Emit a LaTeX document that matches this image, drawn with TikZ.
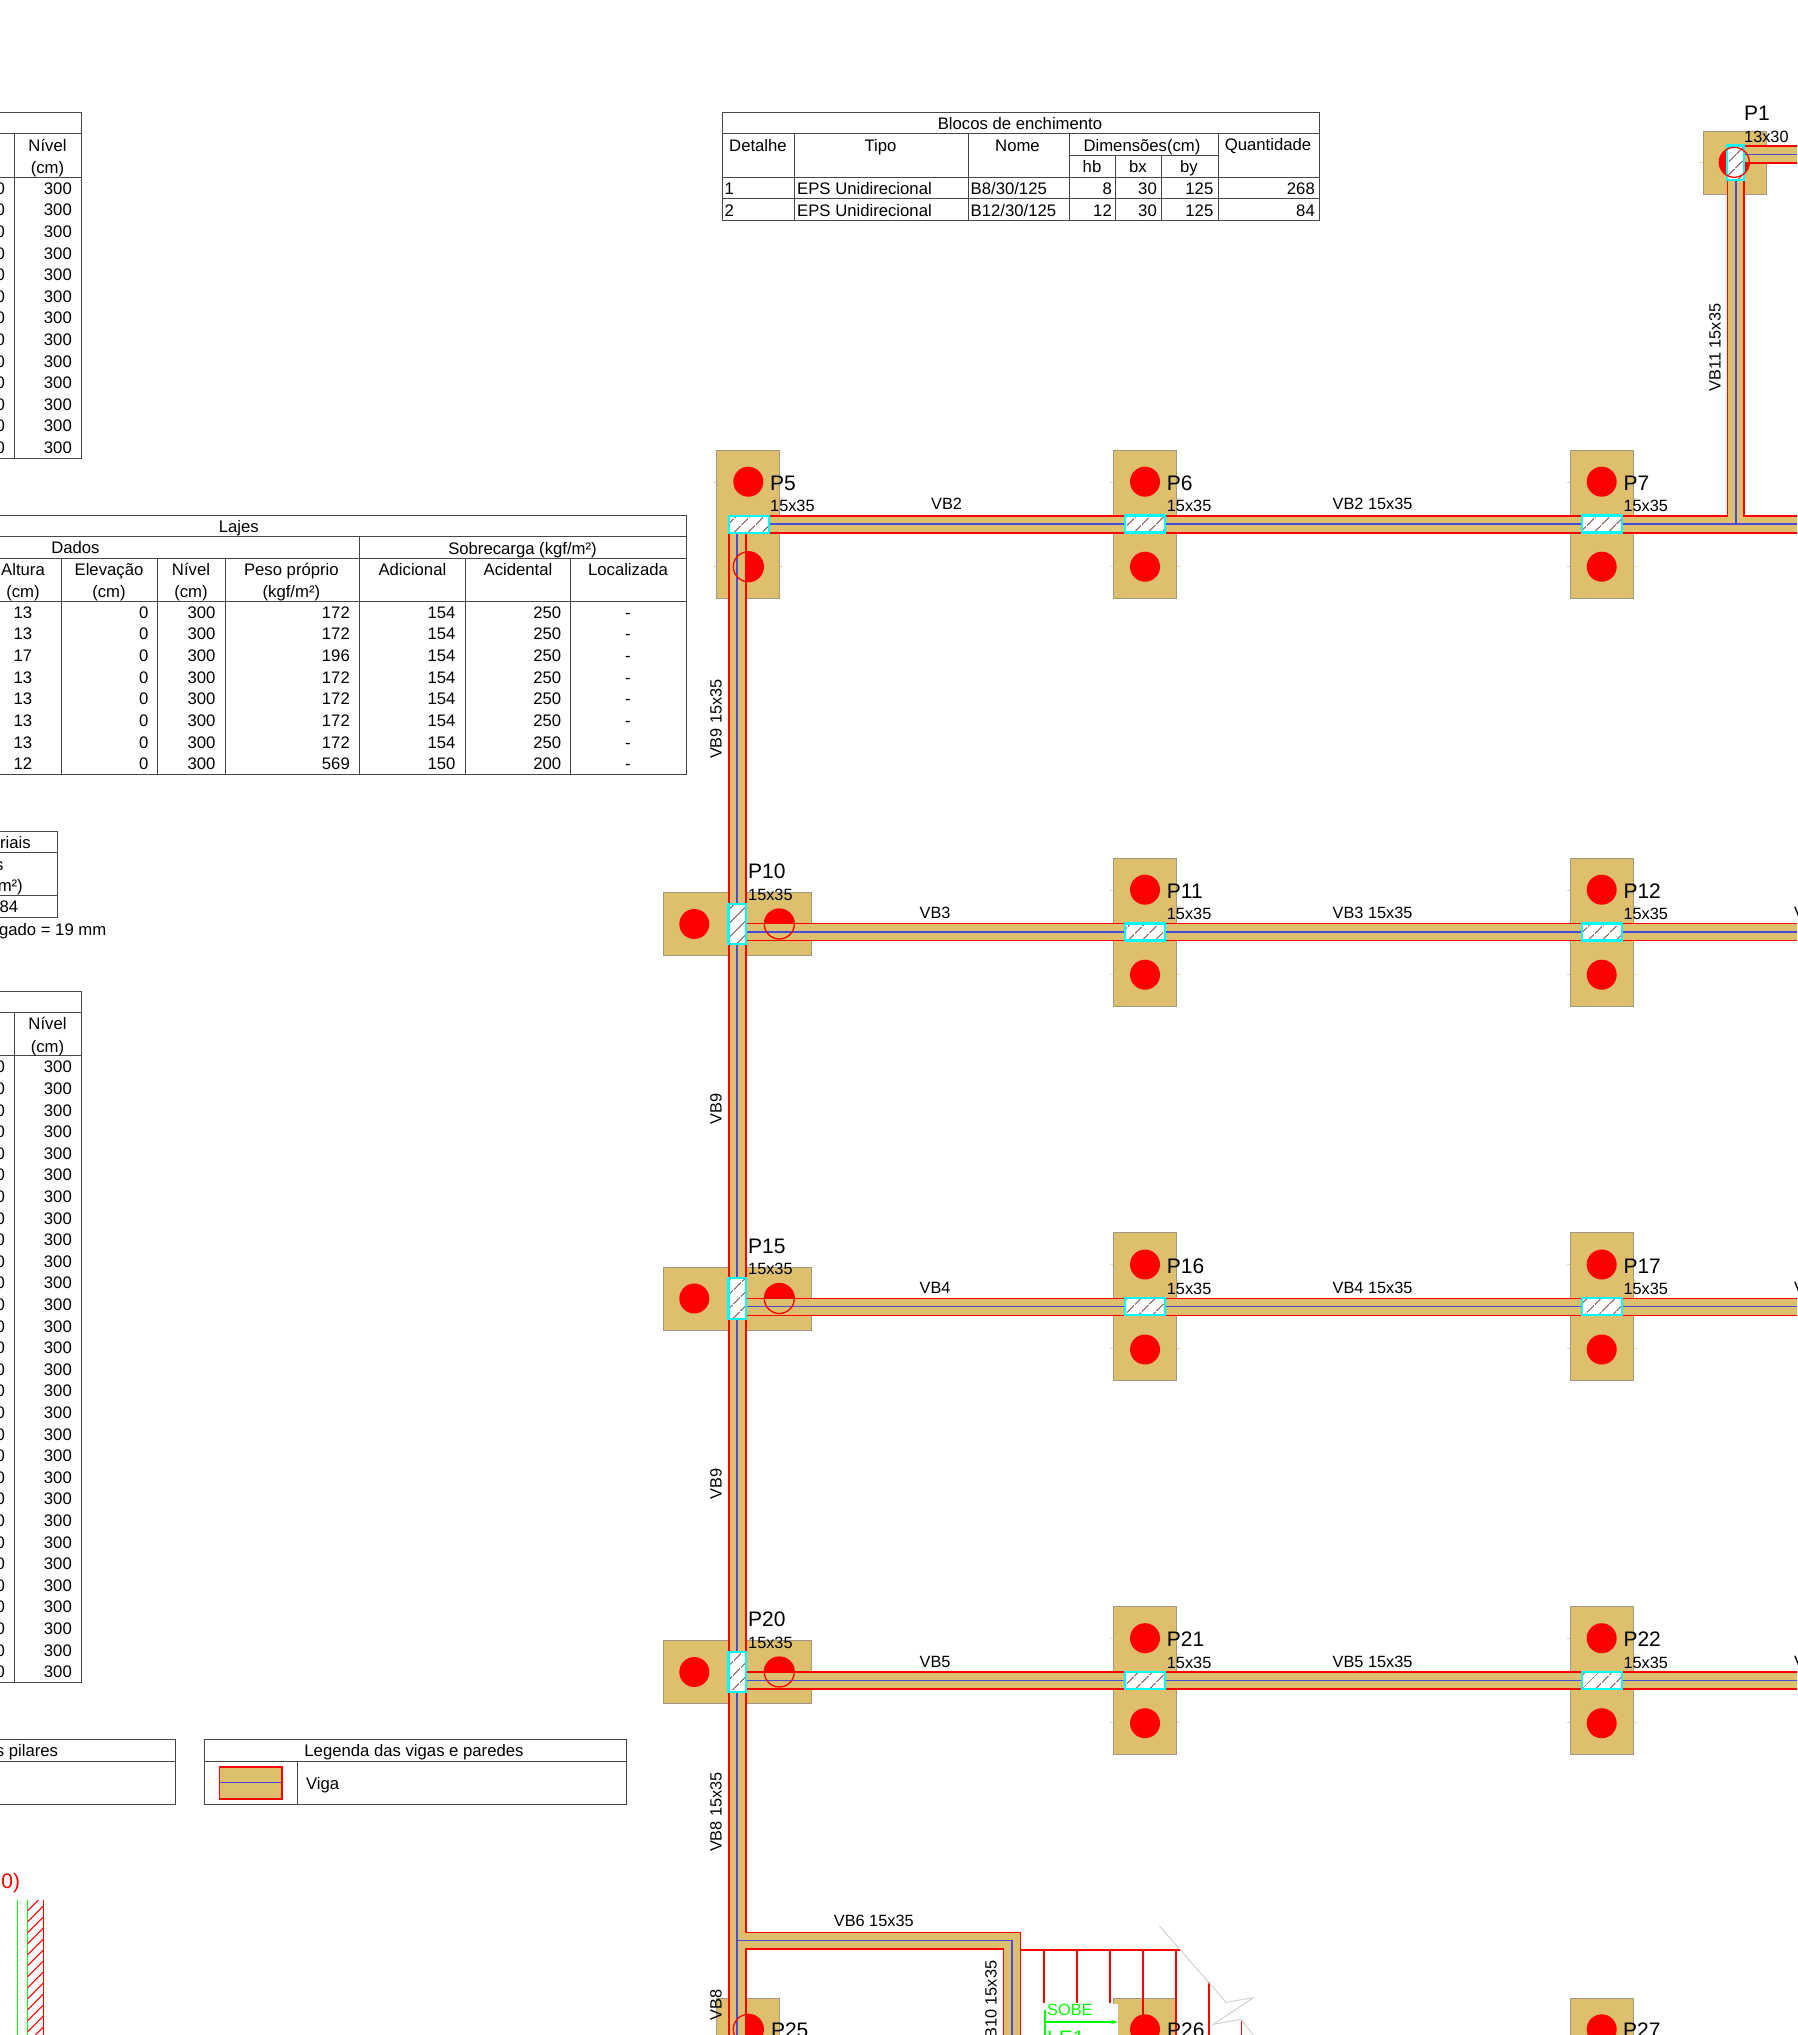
\documentclass[tikz,border=0pt]{standalone}
\usepackage{xcolor}
\usepackage{fontspec}
\setmainfont{Liberation Sans}
\usetikzlibrary{patterns.meta,arrows.meta}
\definecolor{beamtan}{RGB}{221,191,110}
\definecolor{pilaredge}{RGB}{160,152,130}
\definecolor{beamblue}{RGB}{75,75,215}
\definecolor{hatchbrown}{RGB}{110,55,55}
\definecolor{furocyan}{RGB}{0,255,255}
\tikzset{
  txt/.style={font=\fontsize{16.7}{17}\selectfont, inner sep=0pt},
  ptxt/.style={font=\fontsize{16.3}{17}\selectfont, inner sep=0pt},
  lbl/.style={font=\fontsize{21}{21}\selectfont, inner sep=0pt, anchor=base west},
  tl/.style={txt, anchor=base west},
  tc/.style={txt, anchor=base},
  tr/.style={txt, anchor=base east},
  pl/.style={ptxt, anchor=base west},
  vlbl/.style={ptxt, rotate=90},
  tabline/.style={black!72, line width=1},
  pilarbox/.style={fill=beamtan, draw=pilaredge, line width=1},
  furo/.style={fill=red},
  anel/.style={draw=red, line width=1.3},
  vigared/.style={red, line width=1.6},
  vigablue/.style={beamblue, line width=1.1},
  furohatch/.style={draw=furocyan, line width=2.2, preaction={fill=white},
    pattern={Lines[angle=45,distance=10.5pt,line width=1pt]}, pattern color=hatchbrown},
  escada/.style={red, line width=1.6},
  corte/.style={black!18, line width=1},
  risco/.style={beamtan!60, line width=.8},
}
\begin{document}
\begin{tikzpicture}[x=1pt,y=-1pt]
\useasboundingbox (0,0) rectangle (1797,2035);
\clip (0,0) rectangle (1797,2035);

% tabela superior esquerda
\draw[tabline] (-5,112.3) -- (81,112.3) -- (81,458) -- (-5,458);
\draw[tabline] (-5,133.7) -- (81,133.7);
\draw[tabline] (-5,177) -- (81,177);
\draw[tabline] (14,133.7) -- (14,458);
\node[tc] (nivelA) at (47.5,151) {Nível};
\node[tc] (cmA) at (47.5,173) {(cm)};
\foreach \i in {1,...,13} {
  \node[tr] (zeroA\i) at (5,{194.3+21.6*(\i-1)}) {0};
  \node[tr] (nivA\i) at (72,{194.3+21.6*(\i-1)}) {300};
}

% blocos
\draw[tabline] (722,112.3) rectangle (1319.6,220);
\draw[tabline] (722,133.3) -- (1319.6,133.3);
\draw[tabline] (722,177.3) -- (1319.6,177.3);
\draw[tabline] (722,198.3) -- (1319.6,198.3);
\draw[tabline] (1069.5,155.7) -- (1218,155.7);
\foreach \x in {794.6,968,1218} \draw[tabline] (\x,133.3) -- (\x,220);
\draw[tabline] (1069.5,133.3) -- (1069.5,220);
\foreach \x in {1115.5,1161.5} \draw[tabline] (\x,155.7) -- (\x,220);
\node[tc] (blocos) at (1020,129.3) {Blocos de enchimento};
\node[tc] (detalhe) at (758,151) {Detalhe};
\node[tc] (tipo) at (880.5,151) {Tipo};
\node[tc] (nome) at (1017.5,151) {Nome};
\node[tc] (dimen) at (1142,151) {Dimensões(cm)};
\node[tc] (quant) at (1268,150) {Quantidade};
\node[tc] (hb) at (1092,172.7) {hb};
\node[tc] (bx) at (1138,172.7) {bx};
\node[tc] (by) at (1189,172.7) {by};
\foreach \i/\y/\nom/\hh/\qq in {1/194.3/B8\slash30\slash125/8/268,2/216/B12\slash30\slash125/12/84} {
  \node[tl] (det\i) at (724.5,\y) {\i};
  \node[tl] (eps\i) at (797,\y) {EPS Unidirecional};
  \node[tl] (nom\i) at (970.5,\y) {\nom};
  \node[tr] (hh\i) at (1112,\y) {\hh};
  \node[tr] (bxx\i) at (1157,\y) {30};
  \node[tr] (byy\i) at (1213.5,\y) {125};
  \node[tr] (qq\i) at (1315,\y) {\qq};
}

% lajes
\draw[tabline] (-5,515) -- (686.4,515) -- (686.4,774.3) -- (-5,774.3);
\draw[tabline] (-5,536.7) -- (686.4,536.7);
\draw[tabline] (-5,558.3) -- (686.4,558.3);
\draw[tabline] (-5,601) -- (686.4,601);
\draw[tabline] (359.3,536.7) -- (359.3,774.3);
\foreach \x in {61.6,157.5,225,465,570.8} \draw[tabline] (\x,558.3) -- (\x,774.3);
\node[tc] (lajes) at (238.8,532.7) {Lajes};
\node[tc] (dados) at (75.4,553.5) {Dados};
\node[tc] (sobre) at (522.5,554.3) {Sobrecarga (kgf/m²)};
\node[tc] (altura) at (23,575) {Altura};
\node[tc] (alturacm) at (23,597.7) {(cm)};
\node[tc] (elev) at (109,575) {Elevação};
\node[tc] (elevcm) at (109,597.7) {(cm)};
\node[tc] (nivel) at (191,575) {Nível};
\node[tc] (nivelcm) at (191,597.7) {(cm)};
\node[tc] (peso) at (291.4,575) {Peso próprio};
\node[tc] (pesocm) at (291.4,597.7) {(kgf/m²)};
\node[tc] (adic) at (412.4,575) {Adicional};
\node[tc] (acid) at (518,575) {Acidental};
\node[tc] (local) at (628,575) {Localizada};
\foreach \alt/\pes/\adi/\aci [count=\i] in {13/172/154/250,13/172/154/250,17/196/154/250,13/172/154/250,13/172/154/250,13/172/154/250,13/172/154/250,12/569/150/200} {
  \node[tc] (lalt\i) at (23,{618.3+21.65*(\i-1)}) {\alt};
  \node[tr] (lele\i) at (148.6,{618.3+21.65*(\i-1)}) {0};
  \node[tr] (lniv\i) at (215.6,{618.3+21.65*(\i-1)}) {300};
  \node[tr] (lpes\i) at (350,{618.3+21.65*(\i-1)}) {\pes};
  \node[tr] (ladi\i) at (455.7,{618.3+21.65*(\i-1)}) {\adi};
  \node[tr] (laci\i) at (561.4,{618.3+21.65*(\i-1)}) {\aci};
  \node[tc] (lloc\i) at (628,{618.3+21.65*(\i-1)}) {-};
}

% materiais
\draw[tabline] (-5,831) -- (57.3,831) -- (57.3,917.3) -- (-5,917.3);
\draw[tabline] (-5,852.3) -- (57.3,852.3);
\draw[tabline] (-5,895.7) -- (57.3,895.7);
\node[tr] (riais) at (31,848.7) {riais};
\node[tr] (matS) at (3.7,870) {s};
\node[tr] (matM) at (23,891.7) {m²)};
\node[tr] (mat84) at (18.3,912.4) {84};
\node[tr] (gado) at (106.5,935) {gado = 19 mm};

% tabela inferior esquerda
\draw[tabline] (-5,991) -- (81,991) -- (81,1682.2) -- (-5,1682.2);
\draw[tabline] (-5,1012.3) -- (81,1012.3);
\draw[tabline] (-5,1055.7) -- (81,1055.7);
\draw[tabline] (14,1012.3) -- (14,1682.2);
\node[tc] (nivelB) at (47.5,1029.3) {Nível};
\node[tc] (cmB) at (47.5,1052) {(cm)};
\foreach \i in {1,...,29} {
  \node[tr] (zeroB\i) at (5,{1072.9+21.6*(\i-1)}) {0};
  \node[tr] (nivB\i) at (72,{1072.9+21.6*(\i-1)}) {300};
}

% legendas
\draw[tabline] (-5,1739.3) -- (175.8,1739.3) -- (175.8,1804) -- (-5,1804);
\draw[tabline] (-5,1761) -- (175.8,1761);
\node[tr] (pilares) at (58.3,1756.7) {s pilares};
\draw[tabline] (204,1739.3) rectangle (626.7,1804);
\draw[tabline] (204,1761) -- (626.7,1761);
\draw[tabline] (297,1761) -- (297,1804);
\node[tc] (legenda) at (414,1756.7) {Legenda das vigas e paredes};
\fill[beamtan] (219.5,1767) rectangle (281.8,1799);
\draw[vigablue] (219.5,1782.7) -- (281.8,1782.7);
\draw[vigared] (219.5,1767) rectangle (281.8,1799);
\node[tl] (viga) at (305.8,1789) {Viga};

% parede
\node[lbl,anchor=base east,red] (parede) at (20.3,1888.3) {0)};
\draw[green, line width=1.5] (17.7,1900) -- (17.7,2035);
\draw[green, line width=1.5] (27.3,1900) -- (27.3,2035);
\draw[red, line width=1.5] (43.3,1900) -- (43.3,2035);
\begin{scope}
\clip (27.3,1900) rectangle (43.3,2035);
\foreach \y in {1900,1911,...,2060} \draw[red, line width=1] (27.3,\y) -- (43.3,{\y-16});
\end{scope}

% pilares
\foreach \x/\y in {748.3/524,1145/524,1601.7/524,1145/932,1601.7/932,1145/1306.8,1601.7/1306.8,1145/1680.5,1601.7/1680.5} {
  \draw[risco] ({\x-35},{\y-42}) -- ({\x-31.5},{\y-42});
  \draw[risco] ({\x+31.5},{\y-26}) -- ({\x+35},{\y-26});
  \draw[risco] ({\x+31.5},{\y+42}) -- ({\x+35},{\y+42});
  \draw[risco] ({\x-35},{\y+42}) -- ({\x-31.5},{\y+42});
  \draw[pilarbox] ({\x-31.5},{\y-74}) rectangle ({\x+31.5},{\y+74});
  \fill[furo] (\x,{\y-42.3}) circle (15);
  \fill[furo] (\x,{\y+42.7}) circle (15);
}
\foreach \y in {924,1298.5,1672} {
  \draw[pilarbox] (663.3,{\y-31.5}) rectangle (811,{\y+31.5});
  \fill[furo] (694.3,\y) circle (15);
  \fill[furo] (779.3,\y) circle (15);
}
\draw[risco] (1699,162) -- (1703.3,162);
\draw[risco] (1766,166) -- (1770,166);
\draw[pilarbox] (1703.3,131.7) rectangle (1766,194.3);
\fill[furo] (1734.3,162.3) circle (15);
\foreach \x in {716.5,1113.5,1570} \draw[pilarbox] (\x,1998) rectangle ({\x+63},2060);
\foreach \x in {748.3,1145,1601.7} \fill[furo] (\x,2029.3) circle (15);

% vigas horizontais
\fill[beamtan] (729,515.7) rectangle (1797,532.7);
\fill[beamtan] (1727.5,145.7) rectangle (1744,516);
\fill[beamtan] (1744,145.7) rectangle (1797,162.7);
\draw[vigared] (768,515.7) -- (1727.5,515.7) -- (1727.5,180);
\draw[vigared] (1797,515.7) -- (1744,515.7) -- (1744,180);
\draw[vigared] (768,532.7) -- (1797,532.7);
\draw[vigablue] (768,524) -- (1797,524);
\draw[vigablue] (1736,180) -- (1736,524);
\draw[vigared] (1744,145.7) -- (1797,145.7);
\draw[vigared] (1744,162.7) -- (1797,162.7);
\draw[vigablue] (1744,154.3) -- (1797,154.3);
\foreach \y in {932,1306.8,1680.5} {
  \fill[beamtan] (746,{\y-8.5}) rectangle (1797,{\y+8.5});
  \draw[vigared] (746,{\y-8.5}) -- (1797,{\y-8.5});
  \draw[vigared] (746,{\y+8.5}) -- (1797,{\y+8.5});
  \draw[vigablue] (746,\y) -- (1797,\y);
}

% vigas verticais
\fill[beamtan] (729,532) rectangle (746,2040);
\fill[beamtan] (746,1932.3) rectangle (1020.5,1949);
\fill[beamtan] (1003.5,1949) rectangle (1020.5,2040);
\draw[vigared] (729,532.7) -- (729,2040);
\draw[vigared] (746,532.7) -- (746,1932.3) -- (1020.5,1932.3) -- (1020.5,2040);
\draw[vigared] (746,2040) -- (746,1949) -- (1003.5,1949) -- (1003.5,2040);
\draw[vigablue] (737,532.7) -- (737,2040);
\draw[vigablue] (737,1940.7) -- (1012,1940.7) -- (1012,2040);

% furos sobre as vigas
\foreach \x/\y in {748.3/566.7,779.3/924,779.3/1298.5,779.3/1672,748.3/2029.3}
  \draw[anel] (\x,\y) circle (15);
\draw[furohatch] (729,515.7) rectangle (768.7,532.7);
\foreach \x in {1145,1601.7} \foreach \y in {524,932,1306.8,1680.5}
  \draw[furohatch] ({\x-20},{\y-8.5}) rectangle ({\x+20},{\y+8.5});
\foreach \y in {924,1298.5,1672}
  \draw[furohatch] (728.5,{\y-20.3}) rectangle (746,{\y+20.3});
\draw[furohatch] (1727,145.5) rectangle (1743.8,180.2);
\draw[anel] (1734.3,162.3) circle (15);

% escada
\fill[white] (1045,2004) rectangle (1118,2040);
\draw[escada] (1020.5,1950) -- (1181,1950);
\foreach \x in {1044,1077,1110} \draw[escada] (\x,1950) -- (\x,2003.3);
\draw[escada] (1142.7,1950) -- (1142.7,2014.5);
\draw[escada] (1175.7,1950) -- (1175.7,2040);
\draw[escada] (1208.7,1982.3) -- (1208.7,2040);
\draw[escada] (1241.3,2020) -- (1241.3,2040);
\draw[corte] (1159.3,1925.7) -- (1226,2002.3) -- (1253.3,1997.7) -- (1213.3,2024.3) -- (1240.7,2019.3) -- (1262,2046);
\draw[green, line width=2] (1045,2010) -- (1045,2040);
\draw[green, line width=1.3, -{Stealth[length=7pt,width=4pt]}] (1045,2022) -- (1118,2022);
\node[pl,green] (sobe) at (1047,2015.7) {SOBE};
\node[lbl,green] (le1) at (1047,2045) {LE1};

% nomes dos pilares
\foreach \nm/\x/\y in {P5/770/490,P6/1166.7/490,P7/1623.3/490,P11/1166.7/898,P12/1623.3/898,P16/1166.7/1273,P17/1623.3/1273,P21/1166.7/1646.7,P22/1623.3/1646.7,P10/748/878.5,P15/748/1253,P20/748/1626.5} {
  \node[lbl] (\nm) at (\x,\y) {\nm};
  \node[pl] (sec\nm) at (\x,{\y+21.6}) {15x35};
}
\node[lbl] (P1) at (1744,120.7) {P1};
\node[pl] (secP1) at (1744,142) {13x30};
\node[lbl] (P25) at (770.8,2037) {P25};
\node[lbl] (P26) at (1167,2037) {P26};
\node[lbl] (P27) at (1623,2037) {P27};

% nomes das vigas
\node[pl] (vb2) at (931,509.5) {VB2};
\node[pl] (vb2s) at (1332.5,509.5) {VB2 15x35};
\node[pl] (vb3) at (919.5,918.3) {VB3};
\node[pl] (vb3s) at (1332.5,918.3) {VB3 15x35};
\node[pl] (vb4) at (919.5,1293.3) {VB4};
\node[pl] (vb4s) at (1332.5,1293.3) {VB4 15x35};
\node[pl] (vb5) at (919.5,1667) {VB5};
\node[pl] (vb5s) at (1332.5,1667) {VB5 15x35};
\foreach \y [count=\i] in {918.3,1293.3,1667} \node[pl] (vcut\i) at (1794,\y) {V};
\node[pl] (vb6) at (833.7,1926.2) {VB6 15x35};
\node[vlbl] (vb11) at (1715,347.5) {VB11 15x35};
\node[vlbl] (vb9a) at (716,719) {VB9 15x35};
\node[vlbl] (vb9b) at (716,1109) {VB9};
\node[vlbl] (vb9c) at (716,1484) {VB9};
\node[vlbl] (vb8a) at (716,1812) {VB8 15x35};
\node[vlbl] (vb8b) at (716,2005) {VB8};
\node[vlbl,anchor=east] (vb10) at (991,1960.5) {VB10 15x35};
\end{tikzpicture}
\end{document}
